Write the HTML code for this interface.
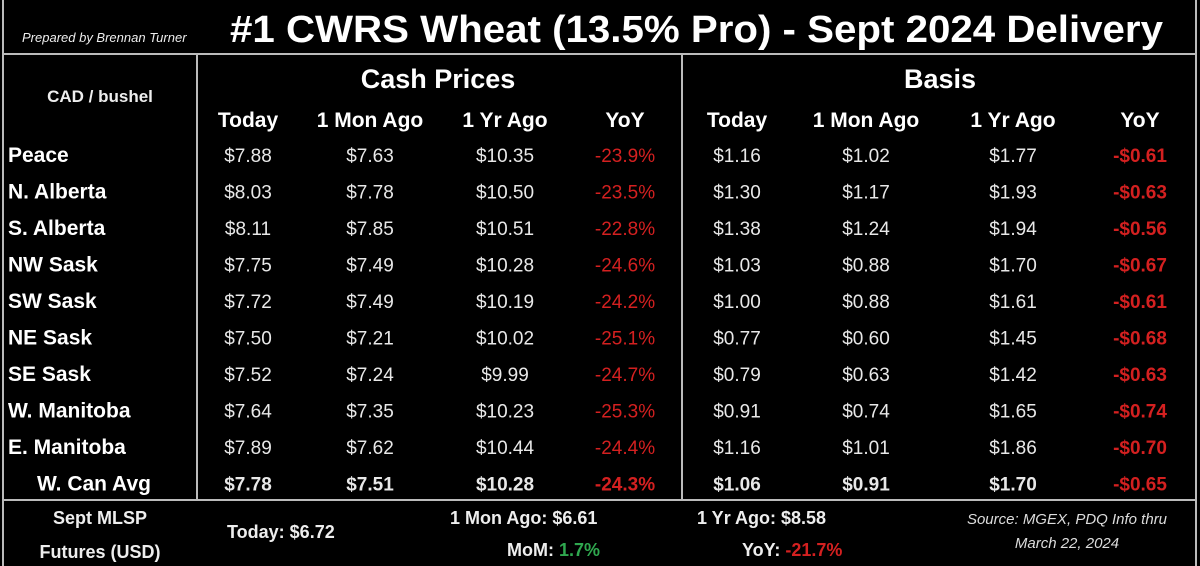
<!DOCTYPE html>
<html><head><meta charset="utf-8"><style>
html,body{margin:0;padding:0;background:#000;width:1200px;height:566px;overflow:hidden}
svg{display:block;font-family:"Liberation Sans",sans-serif}
</style></head><body>
<svg id="t" width="1200" height="566" viewBox="0 0 1200 566">
<rect x="0" y="0" width="1200" height="566" fill="#000"/>
<g stroke="#bbb" stroke-width="2" fill="none">
<line x1="3" y1="0" x2="3" y2="566"/>
<line x1="1196" y1="0" x2="1196" y2="566"/>
<line x1="3" y1="54" x2="1196" y2="54"/>
<line x1="3" y1="500" x2="1196" y2="500"/>
<line x1="197" y1="54" x2="197" y2="500"/>
<line x1="682" y1="54" x2="682" y2="500"/>
</g>
<text x="22" y="42" fill="#eee" font-size="13" font-style="italic">Prepared by Brennan Turner</text>
<text x="230" y="42" fill="#fff" font-size="38" font-weight="bold" textLength="933" lengthAdjust="spacingAndGlyphs">#1 CWRS Wheat (13.5% Pro) - Sept 2024 Delivery</text>
<text x="100" y="102" fill="#eee" font-size="17" font-weight="bold" text-anchor="middle">CAD / bushel</text>
<text x="438" y="88" fill="#fff" font-size="27" font-weight="bold" text-anchor="middle">Cash Prices</text>
<text x="940" y="88" fill="#fff" font-size="27" font-weight="bold" text-anchor="middle">Basis</text>
<g id="body"></g>
<text x="100" y="524" fill="#eee" font-size="18" font-weight="bold" text-anchor="middle">Sept MLSP</text>
<text x="100" y="558" fill="#eee" font-size="18" font-weight="bold" text-anchor="middle">Futures (USD)</text>
<text x="227" y="538" fill="#eee" font-size="18" font-weight="bold">Today: $6.72</text>
<text x="450" y="524" fill="#eee" font-size="18" font-weight="bold">1 Mon Ago: $6.61</text>
<text x="507" y="556" fill="#eee" font-size="18" font-weight="bold">MoM: <tspan fill="#2fa84f">1.7%</tspan></text>
<text x="697" y="524" fill="#eee" font-size="18" font-weight="bold">1 Yr Ago: $8.58</text>
<text x="742" y="556" fill="#eee" font-size="18" font-weight="bold">YoY: <tspan fill="#d42020">-21.7%</tspan></text>
<text x="1067" y="524" fill="#ddd" font-size="15" font-style="italic" text-anchor="middle">Source: MGEX, PDQ Info thru</text>
<text x="1067" y="548" fill="#ddd" font-size="15" font-style="italic" text-anchor="middle">March 22, 2024</text>
</svg>
<script>
const headers=["Today","1 Mon Ago","1 Yr Ago","YoY","Today","1 Mon Ago","1 Yr Ago","YoY"];
const regions=["Peace","N. Alberta","S. Alberta","NW Sask","SW Sask","NE Sask","SE Sask","W. Manitoba","E. Manitoba","W. Can Avg"];
const cashToday=["$7.88","$8.03","$8.11","$7.75","$7.72","$7.50","$7.52","$7.64","$7.89","$7.78"];
const cashMon=["$7.63","$7.78","$7.85","$7.49","$7.49","$7.21","$7.24","$7.35","$7.62","$7.51"];
const cashYr=["$10.35","$10.50","$10.51","$10.28","$10.19","$10.02","$9.99","$10.23","$10.44","$10.28"];
const cashYoY=["-23.9%","-23.5%","-22.8%","-24.6%","-24.2%","-25.1%","-24.7%","-25.3%","-24.4%","-24.3%"];
const basisToday=["$1.16","$1.30","$1.38","$1.03","$1.00","$0.77","$0.79","$0.91","$1.16","$1.06"];
const basisMon=["$1.02","$1.17","$1.24","$0.88","$0.88","$0.60","$0.63","$0.74","$1.01","$0.91"];
const basisYr=["$1.77","$1.93","$1.94","$1.70","$1.61","$1.45","$1.42","$1.65","$1.86","$1.70"];
const basisYoY=["-$0.61","-$0.63","-$0.56","-$0.67","-$0.61","-$0.68","-$0.63","-$0.74","-$0.70","-$0.65"];
const colX=[248,370,505,625,737,866,1013,1140];
const cols=[cashToday,cashMon,cashYr,cashYoY,basisToday,basisMon,basisYr,basisYoY];
const NS="http://www.w3.org/2000/svg";
const g=document.getElementById("body");
function txt(x,y,s,opt){
  const t=document.createElementNS(NS,"text");
  t.setAttribute("x",x);t.setAttribute("y",y);
  t.setAttribute("font-size",opt.size);
  t.setAttribute("fill",opt.fill);
  if(opt.bold)t.setAttribute("font-weight","bold");
  if(opt.anchor)t.setAttribute("text-anchor",opt.anchor);
  t.textContent=s;g.appendChild(t);return t;
}
function rowY(i){return 162+i*36.5;}
headers.forEach((h,c)=>{
  const t=txt(colX[c],127,h,{size:21,fill:"#fff",bold:true,anchor:"middle"});
  
  
});
regions.forEach((r,i)=>{
  const last=i===regions.length-1;
  const y=rowY(i);
  const l=txt(last?37:8,y,r,{size:21,fill:"#fff",bold:true});
  
  
  cols.forEach((col,c)=>{
    const red=(c===3||c===7);
    const t=txt(colX[c],y,col[i],{size:19,fill:red?"#d42020":"#e8e8e8",bold:last||c===7,anchor:"middle"});
    
    
  });
});
</script>
</body></html>
